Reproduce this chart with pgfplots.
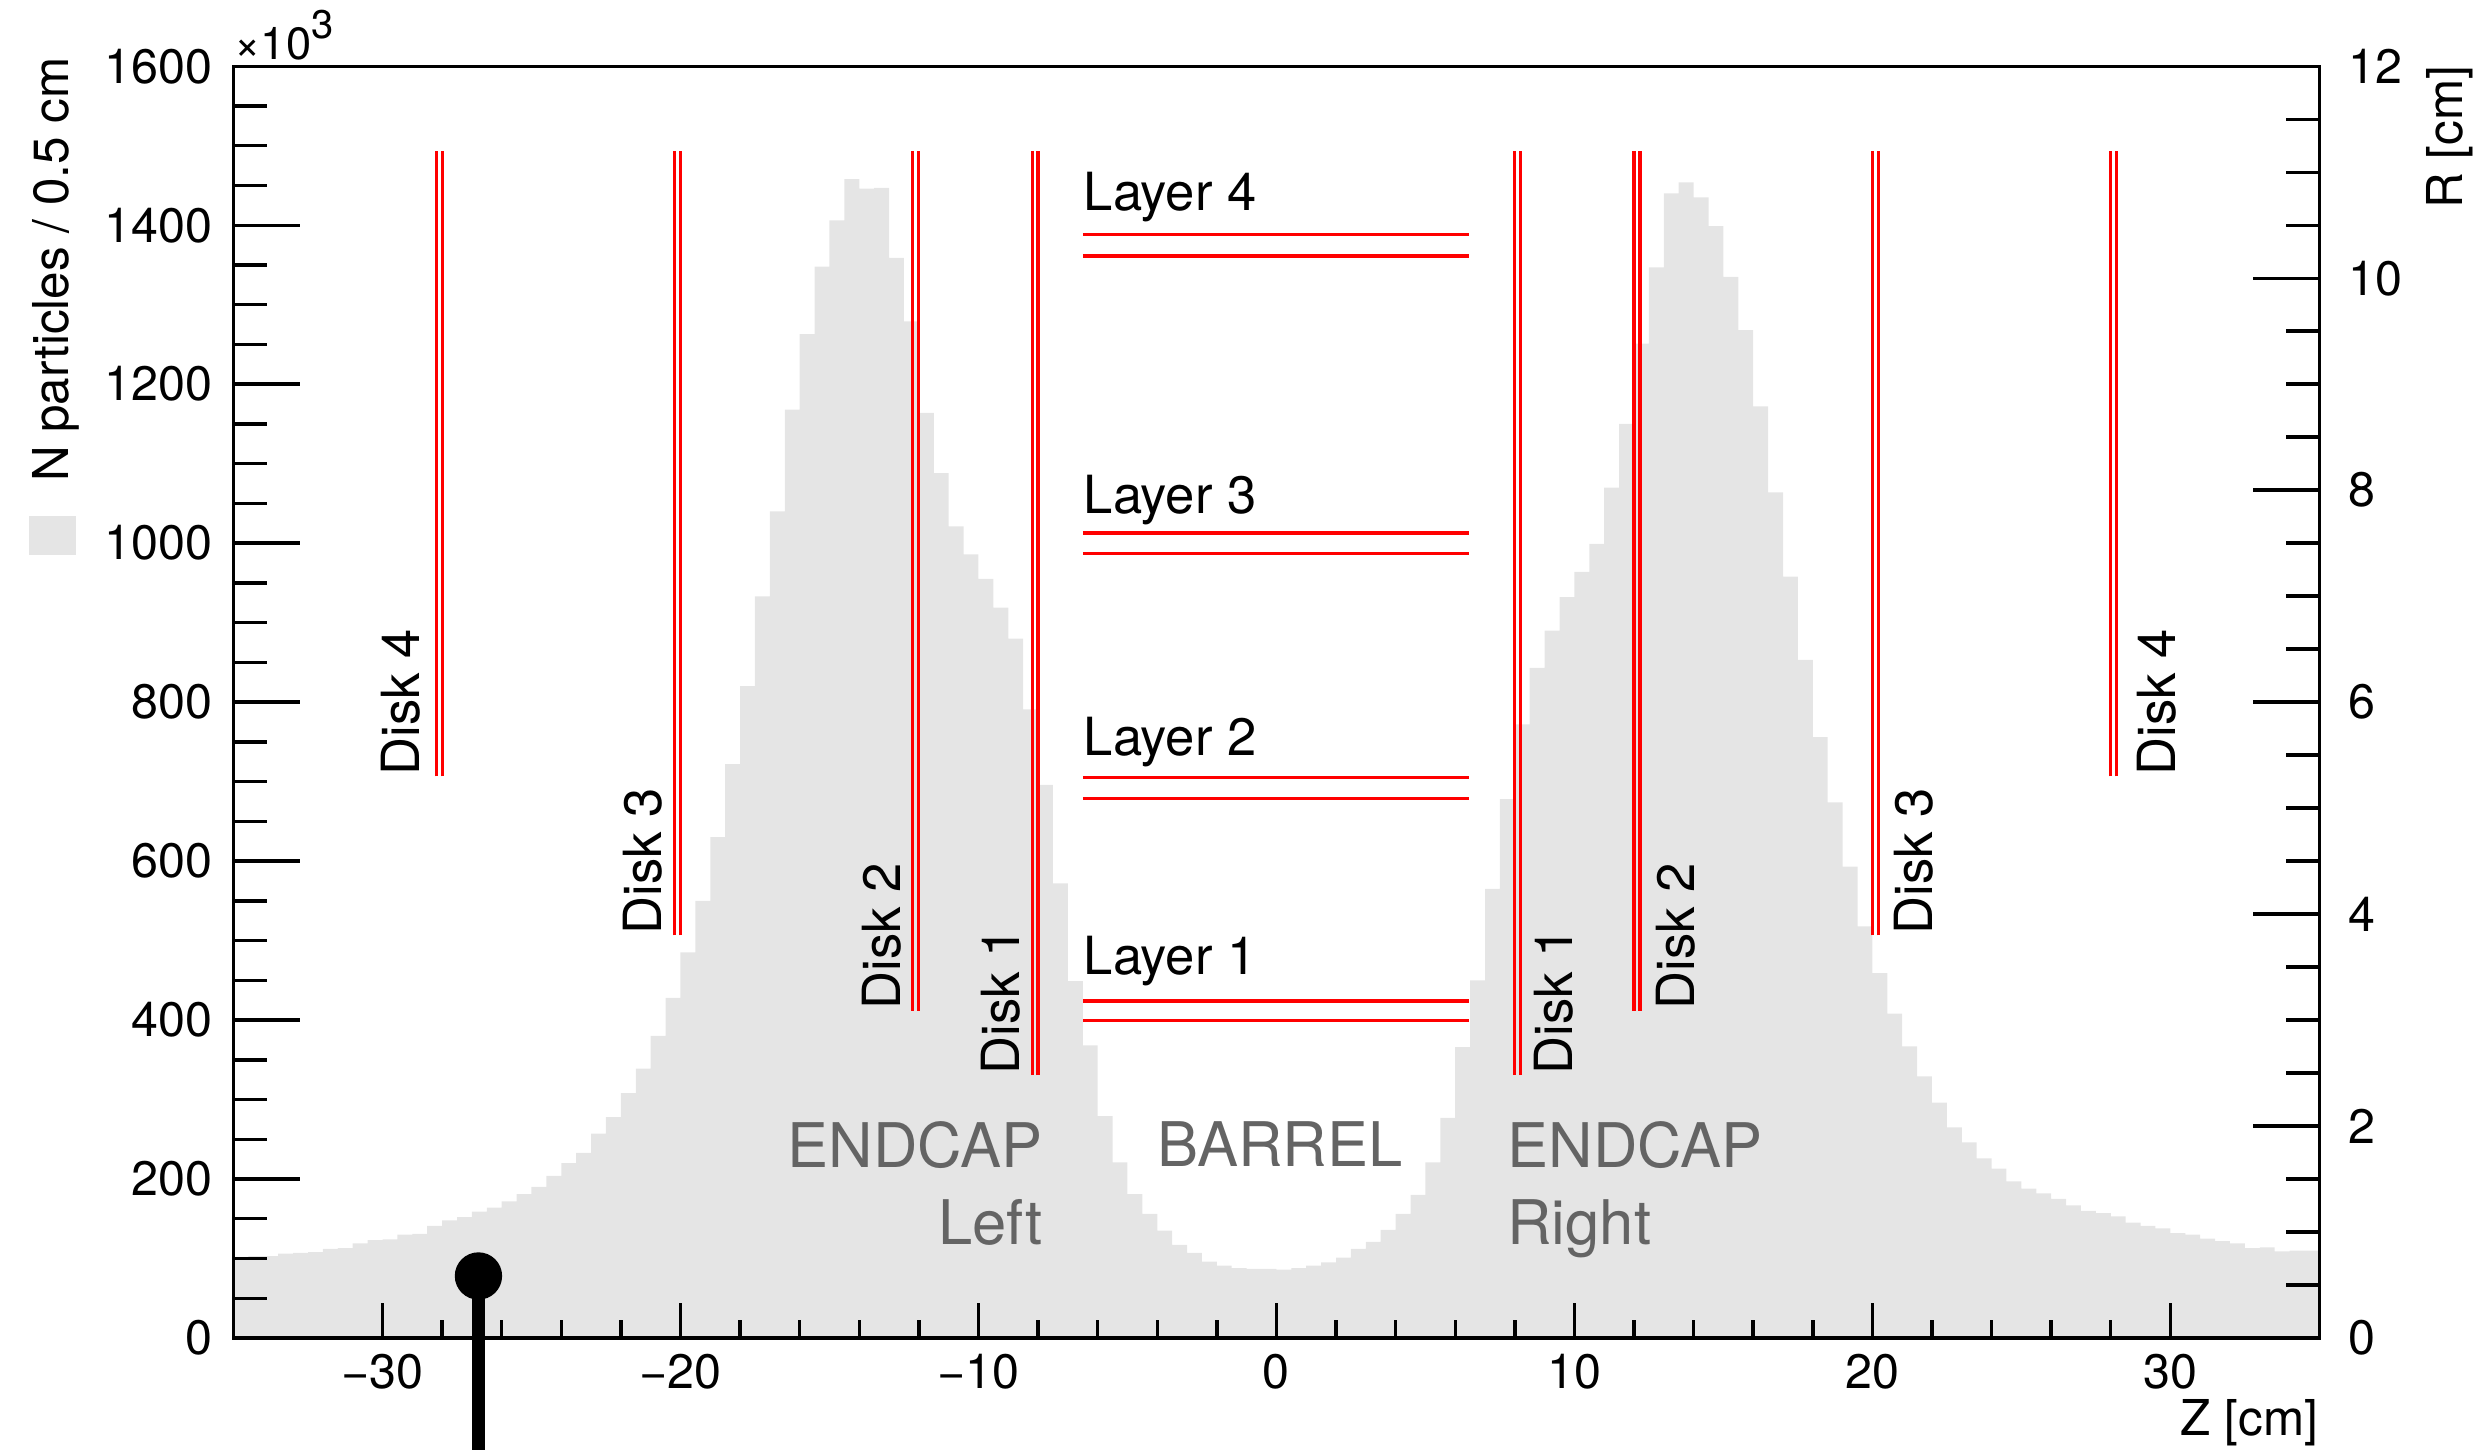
\documentclass[border=0pt]{standalone}
\usepackage{fontspec}
\setmainfont{TeX Gyre Heros}
\usepackage{pgfplots}
\pgfplotsset{compat=1.18}
\definecolor{histgray}{RGB}{229,229,229}
\definecolor{labgray}{RGB}{100,100,100}
\definecolor{dred}{RGB}{255,0,0}
\pgfplotsset{
  common/.style={
    at={(0pt,0pt)}, anchor=south west,
    width=396.6pt, height=241.8pt, scale only axis,
    xmin=-35, xmax=35,
    axis line style={line width=0.65pt, black},
    tick style={line width=0.65pt, black},
    /pgf/number format/assume math mode=true,
  },
  redline/.style={dred, line width=0.6pt},
}
\begin{document}
\begin{tikzpicture}
\path[use as bounding box] (-44.4pt,-21.3pt) rectangle (426pt,254.4pt);

% ---------- main axis: histogram, x ticks ----------
\begin{axis}[common,
  ymin=0, ymax=1600,
  clip=false, axis on top,
  xtick={-30,-20,-10,0,10,20,30},
  xticklabels={−30,−20,−10,0,10,20,30},
  minor x tick num=4,
  xtick pos=bottom, xtick align=inside,
  ytick=\empty,
  major tick length=6.7pt, minor tick length=3.4pt,
  xticklabel style={font=\fontsize{9.2}{11}\selectfont, inner sep=0pt, anchor=north, yshift=-2.85pt},
]
\addplot[const plot, fill=histgray, draw=none] table {
z n
-35.0 102
-34.5 103
-34.0 103
-33.5 106
-33.0 107
-32.5 108
-32.0 112
-31.5 113
-31.0 119
-30.5 123
-30.0 124
-29.5 130
-29.0 131
-28.5 141
-28.0 148
-27.5 152
-27.0 159
-26.5 164
-26.0 172
-25.5 181
-25.0 190
-24.5 204
-24.0 220
-23.5 233
-23.0 257
-22.5 278
-22.0 308
-21.5 339
-21.0 380
-20.5 428
-20.0 485
-19.5 550
-19.0 630
-18.5 722
-18.0 820
-17.5 933
-17.0 1040
-16.5 1168
-16.0 1263
-15.5 1348
-15.0 1406
-14.5 1458
-14.0 1446
-13.5 1447
-13.0 1359
-12.5 1279
-12.0 1164
-11.5 1088
-11.0 1021
-10.5 986
-10.0 955
-9.5 919
-9.0 880
-8.5 791
-8.0 696
-7.5 572
-7.0 449
-6.5 368
-6.0 279
-5.5 221
-5.0 181
-4.5 156
-4.0 135
-3.5 117
-3.0 107
-2.5 96
-2.0 91
-1.5 88
-1.0 87
-0.5 87
0.0 86
0.5 88
1.0 91
1.5 95
2.0 101
2.5 112
3.0 121
3.5 136
4.0 156
4.5 180
5.0 221
5.5 277
6.0 366
6.5 450
7.0 565
7.5 678
8.0 772
8.5 843
9.0 890
9.5 932
10.0 964
10.5 999
11.0 1070
11.5 1150
12.0 1251
12.5 1347
13.0 1440
13.5 1454
14.0 1435
14.5 1399
15.0 1335
15.5 1268
16.0 1172
16.5 1064
17.0 958
17.5 853
18.0 756
18.5 674
19.0 593
19.5 518
20.0 459
20.5 408
21.0 367
21.5 329
22.0 296
22.5 265
23.0 246
23.5 226
24.0 213
24.5 197
25.0 188
25.5 182
26.0 175
26.5 167
27.0 160
27.5 157
28.0 153
28.5 145
29.0 141
29.5 138
30.0 132
30.5 130
31.0 125
31.5 122
32.0 119
32.5 113
33.0 114
33.5 109
34.0 110
34.5 110
35.0 110
} \closedcycle;

% pin marker
\addplot[black, line width=2.4pt] coordinates {(-26.78,78) (-26.78,-141)};
\addplot[only marks, mark=*, mark size=4.3pt, black] coordinates {(-26.78,78)};

% legend swatch and labels
\fill[histgray] (axis cs:-41.88,985) rectangle (axis cs:-40.29,1034);
\node[rotate=90, anchor=base east, inner sep=0pt, font=\fontsize{9.4}{11}\selectfont]
  at ([xshift=-31.4pt,yshift=1.9pt]rel axis cs:0,1) {N particles / 0.5 cm};
\node[anchor=base east, inner sep=0pt, font=\fontsize{9.4}{11}\selectfont]
  at ([yshift=-18.45pt]rel axis cs:1,0) {Z [cm]};
\node[anchor=base west, inner sep=0pt, font=\fontsize{8.6}{10}\selectfont]
  at ([yshift=1.3pt]rel axis cs:0,1) {×10\raisebox{4.0pt}{\fontsize{7.6}{9}\selectfont 3}};
\end{axis}

% ---------- left y axis ----------
\begin{axis}[common,
  ymin=0, ymax=1600,
  xtick=\empty,
  ytick={0,200,400,600,800,1000,1200,1400,1600},
  yticklabels={0,200,400,600,800,1000,1200,1400,1600},
  minor y tick num=3,
  ytick pos=left, ytick align=inside,
  major tick length=12.6pt, minor tick length=6.3pt,
  yticklabel style={font=\fontsize{9.2}{11}\selectfont, inner sep=0pt, anchor=east, xshift=-3.9pt},
]
\end{axis}

% ---------- right R axis with detector geometry ----------
\begin{axis}[common,
  ymin=0, ymax=12,
  clip=false,
  xtick=\empty,
  ytick={0,2,4,6,8,10,12},
  yticklabels={0,2,4,6,8,10,12},
  minor y tick num=3,
  ytick pos=right, yticklabel pos=right, ytick align=inside,
  major tick length=12.6pt, minor tick length=6.3pt,
  yticklabel style={font=\fontsize{9.2}{11}\selectfont, inner sep=0pt, anchor=west, xshift=5.4pt},
]
% Disks (double lines)
\addplot[redline] coordinates {(-28.2,5.30)(-28.2,11.2)};
\addplot[redline] coordinates {(-28.0,5.30)(-28.0,11.2)};
\addplot[redline] coordinates {(-20.2,3.80)(-20.2,11.2)};
\addplot[redline] coordinates {(-20.0,3.80)(-20.0,11.2)};
\addplot[redline] coordinates {(-12.2,3.09)(-12.2,11.2)};
\addplot[redline] coordinates {(-12.0,3.09)(-12.0,11.2)};
\addplot[redline] coordinates {(-8.2,2.48)(-8.2,11.2)};
\addplot[redline] coordinates {(-8.0,2.48)(-8.0,11.2)};
\addplot[redline] coordinates {(8.0,2.48)(8.0,11.2)};
\addplot[redline] coordinates {(8.2,2.48)(8.2,11.2)};
\addplot[redline] coordinates {(12.0,3.09)(12.0,11.2)};
\addplot[redline] coordinates {(12.2,3.09)(12.2,11.2)};
\addplot[redline] coordinates {(20.0,3.80)(20.0,11.2)};
\addplot[redline] coordinates {(20.2,3.80)(20.2,11.2)};
\addplot[redline] coordinates {(28.0,5.30)(28.0,11.2)};
\addplot[redline] coordinates {(28.2,5.30)(28.2,11.2)};
% Layers (double lines)
\addplot[redline] coordinates {(-6.5,10.41)(6.47,10.41)};
\addplot[redline] coordinates {(-6.5,10.21)(6.47,10.21)};
\addplot[redline] coordinates {(-6.5,7.596)(6.47,7.596)};
\addplot[redline] coordinates {(-6.5,7.401)(6.47,7.401)};
\addplot[redline] coordinates {(-6.5,5.287)(6.47,5.287)};
\addplot[redline] coordinates {(-6.5,5.093)(6.47,5.093)};
\addplot[redline] coordinates {(-6.5,3.18)(6.47,3.18)};
\addplot[redline] coordinates {(-6.5,2.994)(6.47,2.994)};

\begin{scope}[every node/.style={inner sep=0pt, font=\fontsize{10}{12}\selectfont}]
\node[anchor=base west] at (axis cs:-6.5,10.64) {Layer 4};
\node[anchor=base west] at (axis cs:-6.5,7.78) {Layer 3};
\node[anchor=base west] at (axis cs:-6.5,5.50) {Layer 2};
\node[anchor=base west] at (axis cs:-6.5,3.43) {Layer 1};
\node[rotate=90, anchor=base west] at (axis cs:-28.75,5.30) {Disk 4};
\node[rotate=90, anchor=base west] at (axis cs:-20.65,3.80) {Disk 3};
\node[rotate=90, anchor=base west] at (axis cs:-12.62,3.09) {Disk 2};
\node[rotate=90, anchor=base west] at (axis cs:-8.62,2.48) {Disk 1};
\node[rotate=90, anchor=north west] at (axis cs:8.62,2.48) {Disk 1};
\node[rotate=90, anchor=north west] at (axis cs:12.7,3.09) {Disk 2};
\node[rotate=90, anchor=north west] at (axis cs:20.7,3.80) {Disk 3};
\node[rotate=90, anchor=north west] at (axis cs:28.85,5.30) {Disk 4};
\end{scope}
\begin{scope}[every node/.style={inner sep=0pt, text=labgray, font=\fontsize{11.7}{14}\selectfont}]
\node[anchor=base east] at (axis cs:-7.82,1.613) {ENDCAP};
\node[anchor=base east] at (axis cs:-7.82,0.886) {Left};
\node[anchor=base] at (axis cs:0.12,1.62) {BARREL};
\node[anchor=base west] at (axis cs:7.72,1.613) {ENDCAP};
\node[anchor=base west] at (axis cs:7.72,0.886) {Right};
\end{scope}
\node[rotate=90, anchor=base east, inner sep=0pt, font=\fontsize{9.4}{11}\selectfont]
  at ([xshift=27.3pt,yshift=0.3pt]rel axis cs:1,1) {R [cm]};
\end{axis}
\end{tikzpicture}
\end{document}
